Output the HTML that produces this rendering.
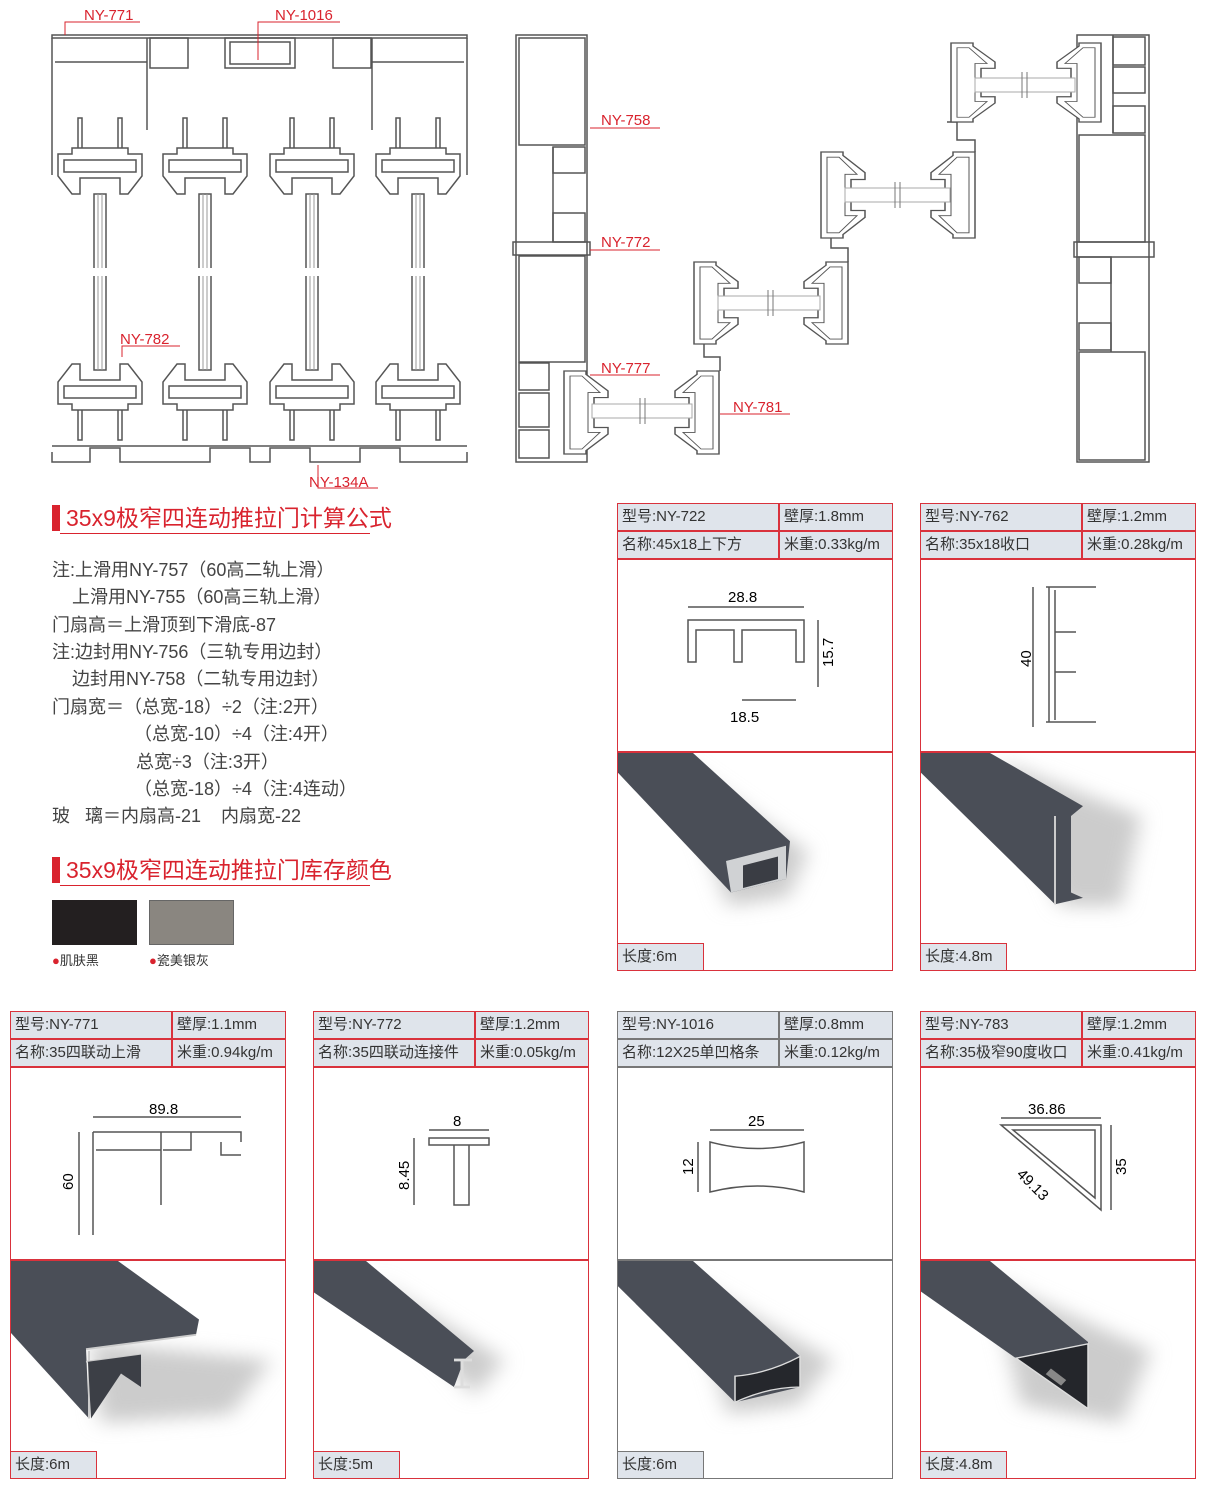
<!DOCTYPE html>
<html><head><meta charset="utf-8"><style>
*{margin:0;padding:0;box-sizing:border-box}
body{width:1210px;height:1491px;background:#fff;position:relative;overflow:hidden;font-family:"Liberation Sans","Noto Sans CJK SC",sans-serif;color:#333}
.abs{position:absolute}
.card{position:absolute;width:276px;height:468px;border:1px solid #d9323c;background:#fff}
.hd{position:absolute;left:0;width:100%;height:28px;background:#dfe4eb;border-bottom:2px solid #d9323c;font-size:15px;line-height:26px}
.hd span{position:absolute;top:0}
.hd .b{left:160px;border-left:2px solid #d9323c;padding-left:4px;height:26px}
.hd .a{left:4px}
.ph{position:absolute;left:0;top:247px;width:274px;height:219px;border-top:2px solid #d9323c;overflow:hidden;background:#fff}
.ft{position:absolute;left:0;bottom:0;width:86px;height:27px;border:1px solid #d9323c;border-left:none;border-bottom:none;background:#dfe4eb;font-size:15px;line-height:26px;padding-left:4px}
.gray,.gray .hd,.gray .hd .b,.gray .ph,.gray .ft{border-color:#777}
.title{position:absolute;left:52px;font-size:23px;color:#d9232e;border-left:8px solid #d9232e;padding-left:6px;height:26px;line-height:26px}
.title:after{content:"";position:absolute;left:0;bottom:-3px;width:310px;border-bottom:1px solid #d9232e}
.f{position:absolute;font-size:18px;color:#444;white-space:pre}
.lbl{font-size:15px;fill:#d9232e}
</style></head><body>
<svg width="0" height="0" style="position:absolute"><defs><filter id="bl" x="-50%" y="-50%" width="200%" height="200%"><feGaussianBlur stdDeviation="10"/></filter></defs></svg>
<svg class="abs" style="left:0;top:0" width="1210" height="495">
<defs>
<g id="sh" fill="#fff" stroke="#555" stroke-width="1.5">
<rect x="-22" y="0" width="4" height="32"/><rect x="18" y="0" width="4" height="32"/>
<polygon points="-28,30 28,30 28,36 42,36 42,58 28,76 20,76 20,60 -20,60 -20,76 -28,76 -42,58 -42,36 -28,36"/>
<polygon points="-36,42 36,42 36,54 -36,54"/>
</g>
<g id="sash">
<use href="#sh" y="118"/>
<rect x="-6" y="194" width="12" height="176" fill="#fff" stroke="#555" stroke-width="1.5"/>
<line x1="-2" y1="194" x2="-2" y2="370" stroke="#999"/><line x1="2" y1="194" x2="2" y2="370" stroke="#999"/>
<rect x="-8" y="268" width="16" height="8" fill="#fff" stroke="none"/>
<use href="#sh" transform="translate(0,440) scale(1,-1)"/>
</g>
<g id="P" fill="#fff" stroke="#555" stroke-width="1.5">
<path d="M0,0 H22 V4 L44,24 V32 H30 V68 H44 V76 L22,96 V100 H0 Z"/>
<path d="M6,6 H18 L36,26 H24 V74 H36 L18,94 H6 Z" stroke-width="1"/>
</g>
</defs>
<g fill="none" stroke="#555" stroke-width="1.5">
<rect x="52" y="35" width="415" height="3"/>
<line x1="52" y1="38" x2="52" y2="175"/><line x1="467" y1="38" x2="467" y2="175"/>
<line x1="55" y1="62" x2="147" y2="62"/><line x1="147" y1="38" x2="147" y2="130"/>
<rect x="150" y="38" width="38" height="30"/><rect x="225" y="38" width="70" height="30"/><rect x="230" y="42" width="60" height="22"/>
<rect x="333" y="38" width="38" height="30"/><line x1="372" y1="38" x2="372" y2="130"/><line x1="372" y1="62" x2="464" y2="62"/>
<path d="M52,452 V462 H90 V448 H120 V462 H210 V448 H250 V462 H270 V448 H310 V462 H360 V448 H400 V462 H467 V452"/>
<line x1="52" y1="446" x2="467" y2="446"/>
<rect x="516" y="35" width="71" height="427"/><rect x="519" y="38" width="66" height="107"/><rect x="519" y="256" width="66" height="106"/>
<rect x="553" y="147" width="32" height="26"/><rect x="553" y="213" width="32" height="29"/><line x1="553" y1="147" x2="553" y2="242"/>
<rect x="513" y="242" width="77" height="13"/>
<rect x="519" y="363" width="30" height="27"/><rect x="519" y="393" width="30" height="34"/><rect x="519" y="430" width="30" height="28"/>
<rect x="1077" y="35" width="72" height="427"/><rect x="1113" y="37" width="32" height="28"/><rect x="1113" y="67" width="32" height="26"/><rect x="1113" y="106" width="32" height="27"/>
<line x1="1113" y1="35" x2="1113" y2="133"/>
<rect x="1079" y="135" width="66" height="107"/><rect x="1074" y="242" width="80" height="15"/>
<rect x="1079" y="257" width="32" height="26"/><rect x="1079" y="323" width="32" height="27"/><line x1="1111" y1="257" x2="1111" y2="352"/>
<rect x="1079" y="352" width="66" height="108"/>
<path d="M947,122 H957 V140 H975 V152"/><path d="M694,339 H704 V357 H720 V371"/><path d="M821,232 H831 V248 H848 V262"/>
</g>
<g>
<use href="#P" transform="translate(951,43) scale(1,0.79)"/><use href="#P" transform="translate(1101,43) scale(-1,0.79)"/>
<rect x="975" y="78" width="100" height="14" fill="#fff" stroke="#aaa"/><line x1="1022" y1="72" x2="1022" y2="98" stroke="#777"/><line x1="1027" y1="72" x2="1027" y2="98" stroke="#777"/>
<use href="#P" transform="translate(821,152) scale(1,0.86)"/><use href="#P" transform="translate(975,152) scale(-1,0.86)"/>
<rect x="845" y="188" width="105" height="14" fill="#fff" stroke="#aaa"/><line x1="895" y1="182" x2="895" y2="208" stroke="#777"/><line x1="900" y1="182" x2="900" y2="208" stroke="#777"/>
<use href="#P" transform="translate(694,262) scale(1,0.82)"/><use href="#P" transform="translate(848,262) scale(-1,0.82)"/>
<rect x="718" y="296" width="102" height="14" fill="#fff" stroke="#aaa"/><line x1="768" y1="290" x2="768" y2="316" stroke="#777"/><line x1="773" y1="290" x2="773" y2="316" stroke="#777"/>
<use href="#P" transform="translate(564,371) scale(1,0.83)"/><use href="#P" transform="translate(719,371) scale(-1,0.83)"/>
<rect x="592" y="404" width="100" height="14" fill="#fff" stroke="#aaa"/><line x1="640" y1="398" x2="640" y2="424" stroke="#777"/><line x1="645" y1="398" x2="645" y2="424" stroke="#777"/>
</g>
<use href="#sash" x="100"/><use href="#sash" x="205"/><use href="#sash" x="312"/><use href="#sash" x="418"/>
<g stroke="#d9232e" fill="none"><path d="M65,35 V22 H140"/><path d="M258,60 V22 H340"/><path d="M590,128 H660"/><path d="M590,250 H660"/><path d="M590,375 H660"/><path d="M720,414 H790"/><path d="M122,357 V346 H180"/><path d="M318,465 V488 H378"/></g>
<text class="lbl" x="84" y="20">NY-771</text><text class="lbl" x="275" y="20">NY-1016</text><text class="lbl" x="601" y="125">NY-758</text><text class="lbl" x="601" y="247">NY-772</text><text class="lbl" x="601" y="373">NY-777</text><text class="lbl" x="733" y="412">NY-781</text><text class="lbl" x="120" y="344">NY-782</text><text class="lbl" x="309" y="487">NY-134A</text>
</svg>

<div class="title" style="top:505px">35x9极窄四连动推拉门计算公式</div>
<div class="f" style="left:52px;top:556px">注:上滑用NY-757（60高二轨上滑）</div>
<div class="f" style="left:52px;top:583px">    上滑用NY-755（60高三轨上滑）</div>
<div class="f" style="left:52px;top:611px">门扇高＝上滑顶到下滑底-87</div>
<div class="f" style="left:52px;top:638px">注:边封用NY-756（三轨专用边封）</div>
<div class="f" style="left:52px;top:665px">    边封用NY-758（二轨专用边封）</div>
<div class="f" style="left:52px;top:693px">门扇宽＝（总宽-18）÷2（注:2开）</div>
<div class="f" style="left:134px;top:720px">（总宽-10）÷4（注:4开）</div>
<div class="f" style="left:136px;top:748px">总宽÷3（注:3开）</div>
<div class="f" style="left:134px;top:775px">（总宽-18）÷4（注:4连动）</div>
<div class="f" style="left:52px;top:802px">玻   璃＝内扇高-21    内扇宽-22</div>
<div class="title" style="top:857px">35x9极窄四连动推拉门库存颜色</div>
<div class="abs" style="left:52px;top:900px;width:85px;height:45px;background:#231f20"></div>
<div class="abs" style="left:149px;top:900px;width:85px;height:45px;background:#8a8680;border:1px solid #666"></div>
<div class="abs" style="left:52px;top:950px;font-size:13px"><span style="color:#d9232e">●</span>肌肤黑</div>
<div class="abs" style="left:149px;top:950px;font-size:13px"><span style="color:#d9232e">●</span>瓷美银灰</div>

<div class="card" style="left:617px;top:503px">
<div class="hd" style="top:0"><span class="a">型号:NY-722</span><span class="b">壁厚:1.8mm</span></div>
<div class="hd" style="top:28px"><span class="a">名称:45x18上下方</span><span class="b">米重:0.33kg/m</span></div>
<svg class="abs" style="left:0;top:58px" width="274" height="190"><g fill="none" stroke="#555" stroke-width="1.5"><path d="M70,58 H186 V100 H178 V68 H124 V100 H116 V68 H78 V100 H70 Z"/><line x1="70" y1="45" x2="186" y2="45"/><line x1="124" y1="138" x2="178" y2="138"/><line x1="200" y1="58" x2="200" y2="125"/></g><text x="110" y="40" font-size="15">28.8</text><text x="112" y="160" font-size="15">18.5</text><text x="215" y="105" font-size="15" transform="rotate(-90 215 105)">15.7</text></svg>
<div class="ph"><svg width="274" height="219"><g transform="scale(1,0.9)"><polygon points="60,10 190,110 170,160 110,170" fill="#ccc" filter="url(#bl)"/><polygon points="0,0 75,0 172,98 168,140 113,155 0,22" fill="#4a4e57"/><polygon points="108,120 168,103 168,140 113,155" fill="#d0d2d4"/><polygon points="125,125 160,115 160,140 125,150" fill="#3a3d44"/></g></svg></div>
<div class="ft">长度:6m</div></div>

<div class="card" style="left:920px;top:503px">
<div class="hd" style="top:0"><span class="a">型号:NY-762</span><span class="b">壁厚:1.2mm</span></div>
<div class="hd" style="top:28px"><span class="a">名称:35x18收口</span><span class="b">米重:0.28kg/m</span></div>
<svg class="abs" style="left:0;top:58px" width="274" height="190"><g fill="none" stroke="#555" stroke-width="1.5"><path d="M125,25 H175 M128,25 V160 M125,160 H175 M134,28 V158 M134,70 H155 M134,110 H155"/><line x1="112" y1="25" x2="112" y2="165"/></g><text x="110" y="105" font-size="15" transform="rotate(-90 110 105)">40</text></svg>
<div class="ph"><svg width="274" height="219"><g transform="scale(1,0.9)"><polygon points="80,10 220,70 200,170 140,170" fill="#ccc" filter="url(#bl)"/><polygon points="0,0 69,0 162,59 150,70 150,155 162,161 134,168 0,22" fill="#4a4e57"/><path d="M134,168 V70 M150,95 H158 M150,125 H158" stroke="#ccc" stroke-width="2"/></g></svg></div>
<div class="ft">长度:4.8m</div></div>

<div class="card" style="left:10px;top:1011px">
<div class="hd" style="top:0"><span class="a">型号:NY-771</span><span class="b">壁厚:1.1mm</span></div>
<div class="hd" style="top:28px"><span class="a">名称:35四联动上滑</span><span class="b">米重:0.94kg/m</span></div>
<svg class="abs" style="left:0;top:58px" width="274" height="190"><g fill="none" stroke="#555" stroke-width="1.5"><path d="M82,62 H230 V72 M82,62 V165 M85,80 H150 M150,62 V135 M152,80 H180 V62 M210,72 V85 H230"/><line x1="82" y1="47" x2="230" y2="47"/><line x1="68" y1="62" x2="68" y2="165"/></g><text x="138" y="44" font-size="15">89.8</text><text x="62" y="120" font-size="15" transform="rotate(-90 62 120)">60</text></svg>
<div class="ph"><svg width="274" height="219"><g transform="scale(1,0.9)"><polygon points="80,90 260,110 220,170 90,180" fill="#ccc" filter="url(#bl)"/><polygon points="0,0 107,0 188,65 185,82 75,98 78,175 0,80" fill="#4a4e57"/><path d="M75,98 L185,82 M75,112 L130,104 M78,175 V100" stroke="#ccc" stroke-width="2" fill="none"/><polygon points="77,112 130,104 130,140 110,125 80,175" fill="#3c3f46"/></g></svg></div>
<div class="ft">长度:6m</div></div>

<div class="card" style="left:313px;top:1011px">
<div class="hd" style="top:0"><span class="a">型号:NY-772</span><span class="b">壁厚:1.2mm</span></div>
<div class="hd" style="top:28px"><span class="a">名称:35四联动连接件</span><span class="b">米重:0.05kg/m</span></div>
<svg class="abs" style="left:0;top:58px" width="274" height="190"><g fill="none" stroke="#555" stroke-width="1.5"><path d="M115,75 H175 V68 H115 Z M140,75 V135 H155 V75"/><line x1="115" y1="60" x2="175" y2="60"/><line x1="100" y1="68" x2="100" y2="135"/></g><text x="139" y="56" font-size="15">8</text><text x="95" y="120" font-size="15" transform="rotate(-90 95 120)">8.45</text></svg>
<div class="ph"><svg width="274" height="219"><g transform="scale(1,0.9)"><polygon points="60,20 190,110 160,150" fill="#ccc" filter="url(#bl)"/><polygon points="0,0 52,0 160,100 150,110 140,140 0,35" fill="#4a4e57"/><path d="M140,110 H158 M148,110 V140 M140,140 H156" stroke="#ddd" stroke-width="3"/></g></svg></div>
<div class="ft">长度:5m</div></div>

<div class="card gray" style="left:617px;top:1011px">
<div class="hd" style="top:0"><span class="a">型号:NY-1016</span><span class="b">壁厚:0.8mm</span></div>
<div class="hd" style="top:28px"><span class="a">名称:12X25单凹格条</span><span class="b">米重:0.12kg/m</span></div>
<svg class="abs" style="left:0;top:58px" width="274" height="190"><g fill="none" stroke="#555" stroke-width="1.5"><path d="M92,72 Q140,85 186,72 V122 Q140,110 92,122 Z"/><line x1="92" y1="60" x2="186" y2="60"/><line x1="80" y1="72" x2="80" y2="122"/></g><text x="130" y="56" font-size="15">25</text><text x="75" y="105" font-size="15" transform="rotate(-90 75 105)">12</text></svg>
<div class="ph"><svg width="274" height="219"><g transform="scale(1,0.9)"><polygon points="70,20 215,110 180,160 110,170" fill="#ccc" filter="url(#bl)"/><polygon points="0,0 75,0 182,106 182,140 117,157 0,28" fill="#4a4e57"/><path d="M117,128 Q150,125 182,106 V140 Q150,140 117,157 Z" fill="#25272c" stroke="#ddd" stroke-width="1.5"/></g></svg></div>
<div class="ft">长度:6m</div></div>

<div class="card" style="left:920px;top:1011px">
<div class="hd" style="top:0"><span class="a">型号:NY-783</span><span class="b">壁厚:1.2mm</span></div>
<div class="hd" style="top:28px"><span class="a">名称:35极窄90度收口</span><span class="b">米重:0.41kg/m</span></div>
<svg class="abs" style="left:0;top:58px" width="274" height="190"><g fill="none" stroke="#555" stroke-width="1.5"><path d="M80,55 H180 V140 Z M92,60 H174 V128 Z"/><line x1="80" y1="48" x2="180" y2="48"/><line x1="190" y1="55" x2="190" y2="140"/></g><text x="107" y="44" font-size="15">36.86</text><text x="205" y="105" font-size="15" transform="rotate(-90 205 105)">35</text><text x="95" y="105" font-size="15" transform="rotate(45 95 105)">49.13</text></svg>
<div class="ph"><svg width="274" height="219"><g transform="scale(1,0.9)"><polygon points="70,20 230,100 200,180 100,160" fill="#ccc" filter="url(#bl)"/><polygon points="0,0 69,0 167,90 167,164 95,108 0,34" fill="#4a4e57"/><polygon points="95,108 167,92 167,164" fill="#24262b" stroke="#ddd" stroke-width="1.5"/><rect x="125" y="125" width="20" height="8" fill="#888" transform="rotate(40 135 129)"/></g></svg></div>
<div class="ft">长度:4.8m</div></div>
</body></html>
